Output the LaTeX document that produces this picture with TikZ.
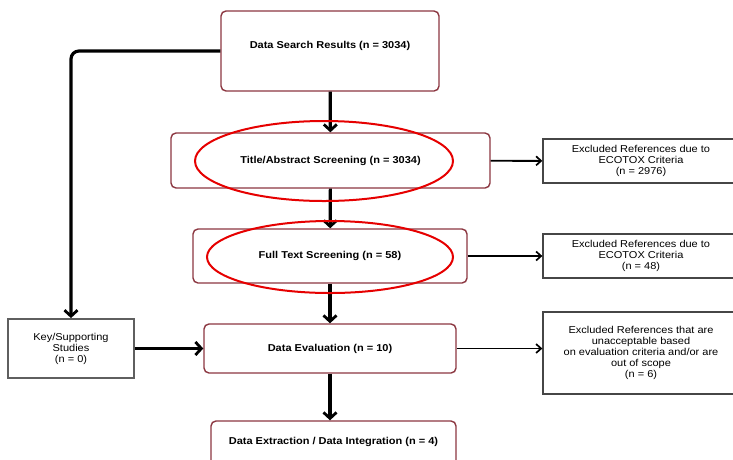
\documentclass[tikz,border=0pt]{standalone}
\usepackage{fontspec}
\setmainfont{Liberation Sans}[FakeStretch=1.1]
\usetikzlibrary{arrows.meta,shapes.geometric}
\definecolor{boxred}{RGB}{140,55,65}
\definecolor{exgray}{RGB}{70,70,70}
\definecolor{keygray}{RGB}{95,95,95}
\definecolor{ellred}{RGB}{230,0,0}
\tikzset{
  mainbox/.style={draw=boxred, line width=1.4pt, rounded corners=5pt, fill=white, font=\fontsize{10}{12}\selectfont\bfseries, inner sep=0pt},
  boldtext/.style={font=\fontsize{10}{12}\selectfont\bfseries, inner sep=0pt},
  exbox/.style={draw=exgray, line width=1.3pt, fill=white, align=center, font=\fontsize{10}{11}\selectfont, inner sep=0pt},
  keybox/.style={draw=keygray, line width=1.8pt, fill=white, align=center, font=\fontsize{10}{11}\selectfont, inner sep=0pt},
  bigarrow/.style={line width=3.2pt, -{Straight Barb[length=6pt,width=13pt,line width=2.8pt]}},
  smallarrow/.style={line width=1.9pt, -{Straight Barb[length=5pt,width=9pt,line width=1.7pt]}},
  redell/.style={ellipse, draw=ellred, line width=2pt, inner sep=0pt}
}
\begin{document}
\begin{tikzpicture}[x=1pt,y=-1pt]
\useasboundingbox (0,0) rectangle (733,459);
\fill[white] (0,0) rectangle (733,459);
% main boxes
\node[mainbox, minimum width=218pt, minimum height=80pt] (dsr) at (330,51) {};
\node[boldtext] (dsrt) at (330,46) {Data Search Results (n = 3034)};
\node[mainbox, minimum width=319pt, minimum height=55pt] (tas) at (330.5,160.5) {Title/Abstract Screening (n = 3034)};
\node[mainbox, minimum width=274pt, minimum height=54pt] (fts) at (330,256) {Full Text Screening (n = 58)};
\node[mainbox, minimum width=252pt, minimum height=49pt] (de) at (330,348.5) {Data Evaluation (n = 10)};
\node[mainbox, minimum width=245pt, minimum height=52pt] (dx) at (333.5,447) {};
\node[boldtext] (dxt) at (333.5,442) {Data Extraction / Data Integration (n = 4)};
% side boxes
\node[keybox, minimum width=126pt, minimum height=59pt] (key) at (71,348.5) {Key/Supporting\\Studies\\(n = 0)};
\node[exbox, minimum width=196pt, minimum height=44pt] (ex1) at (641,161) {Excluded References due to\\ECOTOX Criteria\\(n = 2976)};
\node[exbox, minimum width=196pt, minimum height=44pt] (ex2) at (641,256) {Excluded References due to\\ECOTOX Criteria\\(n = 48)};
\node[exbox, minimum width=196pt, minimum height=82pt] (ex3) at (641,353) {Excluded References that are\\unacceptable based\\on evaluation criteria and/or are\\out of scope\\(n = 6)};
% connectors
\draw[bigarrow] (dsr) -- (tas);
\draw[bigarrow] (tas) -- (fts);
\draw[bigarrow] (fts) -- (de);
\draw[bigarrow] (de.south) -- (de.south |- dx.north);
\draw[bigarrow, rounded corners=8pt] (dsr.west) -| (key.north);
\draw[bigarrow] (key) -- (de);
\draw[smallarrow] (tas) -- (ex1);
\draw[smallarrow] (fts) -- (ex2);
\draw[smallarrow] (de.east) -- (de.east -| ex3.west);
% red ellipses
\node[redell, minimum width=258pt, minimum height=80pt] (e1) at (324,161) {};
\node[redell, minimum width=246pt, minimum height=72pt] (e2) at (330,257) {};
\end{tikzpicture}
\end{document}
